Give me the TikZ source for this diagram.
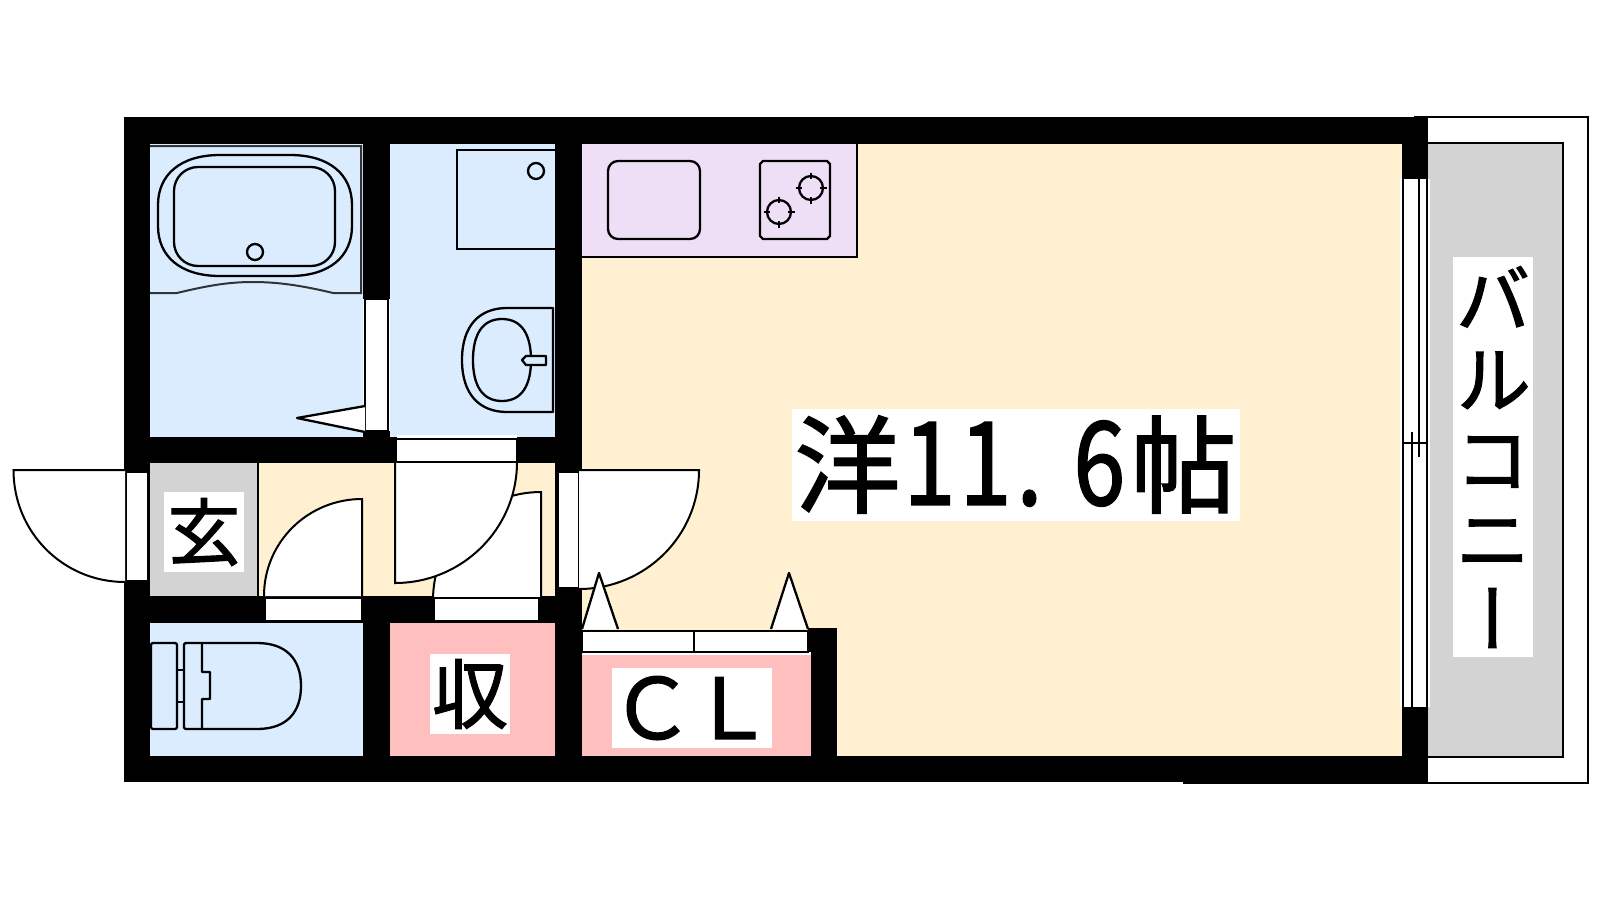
\documentclass[tikz,border=0pt]{standalone}
\usepackage{fontspec}
\setmainfont{Noto Sans CJK JP}[FakeBold=1.5]
\newfontfamily\jpvert{Noto Sans CJK JP}[RawFeature=+vert,FakeBold=1.5]
\definecolor{bathblue}{HTML}{DBECFF}
\definecolor{floorcream}{HTML}{FFF0D2}
\definecolor{storepink}{HTML}{FFBFBF}
\definecolor{kitchenlilac}{HTML}{EEDFF6}
\definecolor{floorgray}{HTML}{D3D3D3}
\newcommand{\hwchar}[2][0pt]{\makebox[56pt]{\hspace*{#1}\addfontfeature{FakeStretch=0.8}\fontsize{116}{112}\selectfont #2}}
\tikzset{
	line/.style={draw=black,line width=2pt},
	fixture/.style={draw=black,line width=2.3pt,line join=round},
	leaf/.style={line,fill=white},
	frame/.style={line,fill=white},
	roomlabel/.style={fill=white,inner sep=0pt,anchor=center,align=center},
}
\begin{document}
\begin{tikzpicture}[x=1pt,y=-1pt]
	\useasboundingbox (0,0) rectangle (1600,900);

	% balcony and walls
	\draw[line] (1414,117) -- (1588,117) -- (1588,782.5) -- (1428,782.5);
	\fill[black] (124,117) rectangle (1428,782);
	\fill[black] (1183,756) rectangle (1428,784);
	\fill[floorcream] (582,144) rectangle (1402,756);
	\fill[floorcream] (258,463) rectangle (555,596);
	\fill[kitchenlilac] (582,144) rectangle (857,257);
	\draw[line] (857,144) -- (857,257) -- (582,257);
	\fill[bathblue] (150,144) rectangle (363,437);
	\fill[bathblue] (390,144) rectangle (555,437);
	\fill[bathblue] (150,623) rectangle (363,756);
	\fill[floorgray] (150,463) rectangle (258,596);
	\draw[line] (258,463) -- (258,596);
	\fill[storepink] (390,623) rectangle (555,756);
	\fill[black] (808,628) rectangle (837,756);
	\fill[white] (582,652) rectangle (811,655);
	\fill[storepink] (582,655) rectangle (811,756);
	\draw[line,fill=floorgray] (1428,143) -- (1563,143) -- (1563,757) -- (1428,757);

	% bath
	\draw[line width=2pt,draw=black!80] (150,293) -- (177,293) .. controls (210,285) and (230,282) .. (253,282) .. controls (276,282) and (300,285) .. (333,293) -- (361,293) -- (361,146) -- (150,146);
	\draw[fixture] (220,155) -- (290,155) .. controls (330,155) and (352,175) .. (352,205) -- (352,226) .. controls (352,256) and (330,276) .. (290,276) -- (220,276) .. controls (180,276) and (158,256) .. (158,226) -- (158,205) .. controls (158,175) and (180,155) .. (220,155) -- cycle;
	\draw[fixture,rounded corners=24pt] (174,167) rectangle (335,266);
	\draw[fixture] (255,252) circle (8);
	\fill[white] (363,299) rectangle (390,431);
	\draw[frame] (365,299) rectangle (388,431);
	\draw[fixture,fill=white] (365,406) -- (297,418) -- (365,432);

	% wash room
	\draw[line] (555,150) -- (457,150) -- (457,249) -- (555,249);
	\draw[fixture] (536,171) circle (8);
	\draw[fixture] (553,308) -- (507,308) .. controls (480,308) and (462,325) .. (462,360) .. controls (462,395) and (480,412) .. (507,412) -- (553,412) -- cycle;
	\draw[fixture] (502,319) .. controls (522,319) and (531,335) .. (531,360) .. controls (531,385) and (522,401) .. (502,401) .. controls (482,401) and (473,385) .. (473,360) .. controls (473,335) and (482,319) .. (502,319) -- cycle;
	\draw[fixture,fill=bathblue] (546,356) -- (526,356) -- (522,360) -- (526,365) -- (546,365) -- cycle;

	% toilet
	\draw[fixture,rounded corners=2pt] (151,643) rectangle (177,729);
	\draw[line] (177,670) -- (185,670) (177,702) -- (185,702);
	\draw[fixture,rounded corners=2pt] (202,643) -- (184,643) -- (184,729) -- (202,729);
	\draw[fixture] (202,643) -- (257,643) .. controls (287,643) and (301,660) .. (301,686) .. controls (301,712) and (287,729) .. (257,729) -- (202,729) -- (202,699) -- (210,699) -- (210,672) -- (202,672) -- cycle;

	% doors
	\draw[frame] (126,472) rectangle (148,581);
	\draw[leaf] (125,470) -- (13.5,470) .. controls (13.5,532) and (63,582) .. (125,582);
	\draw[leaf] (362,596) -- (362,499) .. controls (308,499) and (264,542) .. (264,596);
	\draw[frame] (265,598) rectangle (362,621);
	\draw[leaf] (541,600) -- (541,492) .. controls (481,492) and (433,540) .. (433,600);
	\draw[frame] (434,598) rectangle (539,621);
	\draw[leaf] (395,462) -- (395,583) .. controls (462,583) and (517,529) .. (517,462);
	\fill[white] (397,435) rectangle (517,439);
	\draw[frame] (396,439) rectangle (517,462);
	\draw[frame] (558,472) rectangle (579,588);
	\draw[leaf] (579,470) -- (699,470) .. controls (699,536) and (645,589) .. (579,589);

	% closet
	\draw[fixture,fill=white] (582,629) -- (599,573) -- (618,629);
	\draw[fixture,fill=white] (771,629) -- (789,573) -- (808,629);
	\draw[frame] (582,631) rectangle (694,652);
	\draw[frame] (694,631) rectangle (808,652);

	% kitchen
	\draw[fixture,rounded corners=10pt] (608,161) rectangle (700,239);
	\draw[fixture] (763,161) -- (827,161) -- (830,164) -- (830,236) -- (827,239) -- (763,239) -- (760,236) -- (760,164) -- cycle;
	\foreach \bx/\by in {811/188,779/212}{
		\draw[fixture] (\bx,\by) circle (12);
		\draw[line] (\bx-15.5,\by) -- (\bx-9,\by) (\bx+9,\by) -- (\bx+15.5,\by) (\bx,\by-15.5) -- (\bx,\by-9) (\bx,\by+9) -- (\bx,\by+15.5);
	}

	% window
	\fill[white] (1400,179) rectangle (1430,707);
	\draw[line] (1403,179) -- (1403,707);
	\draw[line] (1427,179) -- (1427,707);
	\draw[line] (1419,179) -- (1419,457);
	\draw[line] (1412,432) -- (1412,707);
	\draw[line] (1403,443) -- (1427,443);

	% labels
	\node[roomlabel,minimum width=447pt,minimum height=112pt] (mainroom) at (1015.5,464.5) {\fontsize{106}{112}\selectfont\makebox[112pt]{洋}\hwchar[-4pt]{1}\hwchar[-4pt]{1}\hwchar[-28pt]{.}\hwchar{6}\makebox[112pt]{帖}};
	\node[roomlabel,minimum size=80pt,font=\fontsize{73}{80}\selectfont] (genkan) at (204,532) {玄};
	\node[roomlabel,minimum size=80pt,font=\fontsize{76}{80}\selectfont] (storage) at (470,694) {収};
	\node[roomlabel,minimum width=160pt,minimum height=80pt,font=\fontsize{84}{80}\selectfont] (closet) at (692,708) {\makebox[80pt]{Ｃ}\makebox[80pt]{Ｌ}};
	\node[roomlabel,minimum width=80pt,minimum height=400pt,font=\jpvert\fontsize{76}{80}\selectfont] (balcony) at (1493,457) {バ\\ル\\コ\\ニ\\ー};
\end{tikzpicture}
\end{document}
